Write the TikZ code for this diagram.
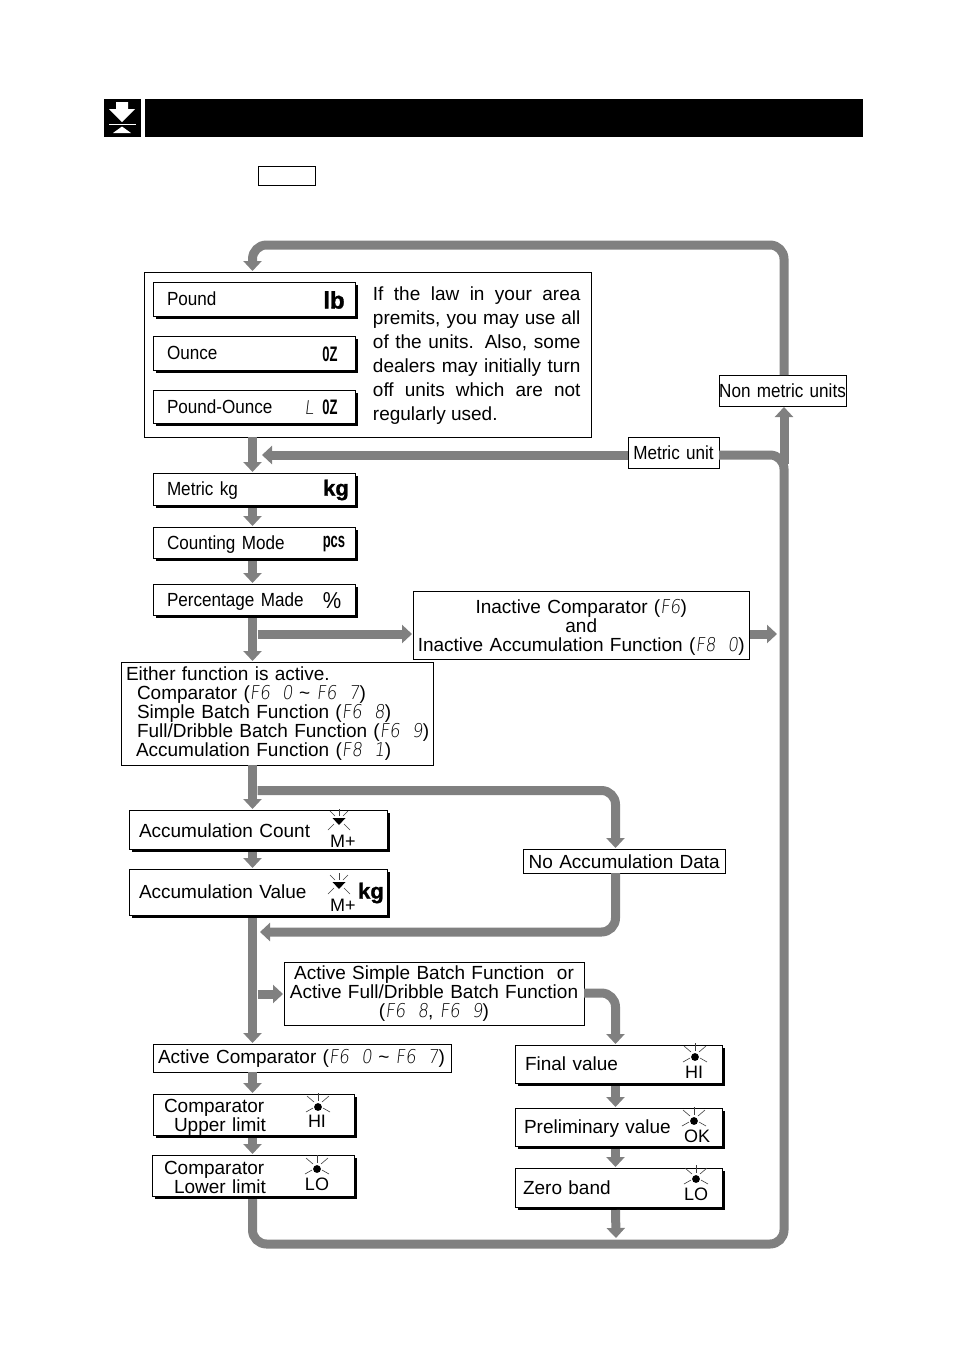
\documentclass[tikz,border=0pt]{standalone}
\usepackage{fontspec}
\setmainfont{Liberation Sans}
\newfontfamily\condfont[FakeStretch=0.9,WordSpace=0.7]{Liberation Sans}
\newfontfamily\narrowbold[FakeStretch=0.62]{Liberation Sans Bold}
\newfontfamily\heavyfont[FakeBold=1.2]{Liberation Sans Bold}
\newfontfamily\segfont[FakeSlant=0.12,FakeStretch=0.88]{DejaVu Sans ExtraLight}
\usetikzlibrary{arrows.meta,shadows}
\definecolor{flowgray}{HTML}{808080}
\newcommand{\seg}[1]{{\fontsize{19}{19}\segfont #1}}
\newcommand{\gapk}{\kern12pt }
\newcommand{\ins}[1]{\hspace*{#1pt}}
\newcommand{\nudge}[2]{\raisebox{-#1pt}[\height][\depth]{#2}}
\tikzset{
  sz/.style={font=\fontsize{#1}{#1}\selectfont},
  panel/.style={draw=black,line width=0.9pt,fill=white,inner sep=0pt,outer sep=0pt,align=left,sz=19},
  raised/.style={panel,drop shadow={shadow xshift=3pt,shadow yshift=-3pt,fill=black,opacity=1}},
  cond/.style={font=\fontsize{19}{19}\condfont},
  icontext/.style={inner sep=0pt,font=\fontsize{#1}{#1}\selectfont},
  bigunit/.style={inner sep=0pt,font=\fontsize{#1}{#1}\heavyfont},
  lcdunit/.style={inner sep=0pt,font=\fontsize{#1}{#1}\narrowbold},
  flow/.style={draw=flowgray,line width=9pt,-{Triangle[width=18pt,length=10pt]},shorten >=1pt},
  trunk/.style={draw=flowgray,line width=9pt,rounded corners=14pt},
  curved/.style={flow,rounded corners=14pt},
  below shadow/.style={shorten <=3pt},
  ray/.style={draw=black!75,line width=0.6pt}
}
% box given by its corners: style, name, x1, y1, x2, y2, text
\newcommand{\boxat}[7]{%
  \pgfmathsetmacro{\bw}{#5-#3}\pgfmathsetmacro{\bh}{#6-#4}%
  \pgfmathsetmacro{\bx}{(#3+#5)/2}\pgfmathsetmacro{\by}{(#4+#6)/2}%
  \node[#1,minimum width=\bw pt,minimum height=\bh pt,text width=\bw pt] (#2) at (\bx,\by) {#7};}
% lamp indicators with rays
\newcommand{\lampdot}[2]{%
  \fill (#1,#2) circle (3.9);
  \foreach \xa/\ya/\xb/\yb in {0/-14/0/-6,-11/-11/-4/-5,11/-11/4/-5,-12/5/-5/1,12/5/5/1}
    \draw[ray] ({#1+\xa},{#2+\ya}) -- ({#1+\xb},{#2+\yb});}
\newcommand{\lamptri}[2]{%
  \fill ({#1-6.5},{#2-3}) -- ({#1+6.5},{#2-3}) -- (#1,{#2+4}) -- cycle;
  \foreach \xa/\ya/\xb/\yb in {0/-12/0/-5,-9/-10/-4/-5,9/-10/4/-5,-11/9/-5/3,11/9/5/3}
    \draw[ray] ({#1+\xa},{#2+\ya}) -- ({#1+\xb},{#2+\yb});}
\begin{document}
\begin{tikzpicture}[x=1pt,y=-1pt]
\useasboundingbox (0,0) rectangle (954,1350);

% title band
\boxat{draw=none,fill=black,inner sep=0pt}{badge}{104}{99}{141}{137}{}
\boxat{draw=none,fill=black,inner sep=0pt}{band}{145}{99}{863}{137}{}
\fill[white] (116,102) -- (128,102) -- (128,109) -- (135,109) -- (122,122) -- (109,109) -- (116,109) -- cycle;
\draw[white,line width=0.6pt] (109,124.5) -- (136,124.5);
\fill[white] (122,126.5) -- (131,133) -- (113,133) -- cycle;
\boxat{panel}{keybox}{258}{166}{315.5}{185}{}

% unit group
\boxat{panel}{units}{144}{272}{591}{437}{}
\boxat{raised,cond}{pound}{153}{282}{355}{316}{\ins{14}Pound}
\boxat{raised,cond}{ounce}{153}{336}{355}{370}{\ins{14}Ounce}
\boxat{raised,cond}{poundounce}{153}{390}{355}{423}{\ins{14}Pound-Ounce}
\node[icontext=19,text width=207.5pt,align=justify,font=\fontsize{19}{24}\selectfont] (note) at (476.7,356)
  {If the law in your area\linebreak premits, you may use all\linebreak of the units. Also, some\linebreak dealers may initially turn\linebreak off units which are not\linebreak regularly used.};
\node[bigunit=24] (lbsym) at (334,300) {lb};
\node[lcdunit=21] (ozsym) at (330,354) {0Z};
\node[icontext=18] (lsym) at (309,408) {\seg{L}};
\node[lcdunit=21] (ozsymb) at (330,407) {0Z};

% metric modes
\boxat{raised,cond}{metric}{153}{473}{355}{505}{\ins{14}\nudge{2}{Metric kg}}
\node[bigunit=22] (kgsym) at (336,490) {kg};
\boxat{raised,cond}{counting}{153}{527}{355}{558}{\ins{14}\nudge{2}{Counting Mode}}
\node[lcdunit=21] (pcssym) at (334,544) {pcs};
\boxat{raised,cond}{percent}{153}{584}{355}{615}{\ins{14}\nudge{2}{Percentage Made}}
\node[icontext=23,font=\fontsize{23}{23}\condfont] (pctsym) at (332,601) {\%};
\boxat{panel,align=center,sz=19}{inactive}{413}{591}{749.5}{659}{\nudge{2}{Inactive Comparator (\seg{F6})}\\\nudge{2}{and}\\\nudge{2}{Inactive Accumulation Function (\seg{F8\gapk 0})}}
\boxat{panel}{either}{121}{662}{433}{765}{\ins{5}Either function is active.\\\ins{16}Comparator (\seg{F6\gapk 0} \textasciitilde\ \seg{F6\gapk 7})\\\ins{16}Simple Batch Function (\seg{F6\gapk 8})\\\ins{16}Full/Dribble Batch Function (\seg{F6\gapk 9})\\\ins{15}Accumulation Function (\seg{F8\gapk 1})}

% accumulation
\boxat{raised}{acccount}{129}{810}{387}{849}{\ins{10}\nudge{1}{Accumulation Count}}
\lamptri{339}{821}
\node[icontext=18] (mplusa) at (343,841) {M+};
\boxat{raised}{accvalue}{129}{869}{387}{915}{\ins{10}Accumulation Value}
\lamptri{339}{885}
\node[icontext=18] (mplusb) at (343,905) {M+};
\node[bigunit=22] (kgsymb) at (371,893) {kg};
\boxat{panel,align=center}{nodata}{523}{849}{725.5}{873}{\nudge{1}{No Accumulation Data}}

% batch and comparator
\boxat{panel,align=center}{batch}{284}{962}{584}{1025}{Active Simple Batch Function\ \ or\\Active Full/Dribble Batch Function\\(\seg{F6\gapk 8}, \seg{F6\gapk 9})}
\boxat{panel}{comparator}{153}{1044}{451}{1072}{\ins{5}Active Comparator (\seg{F6\gapk 0} \textasciitilde\ \seg{F6\gapk 7})}
\boxat{raised}{upper}{153}{1094}{354}{1135}{\ins{11}\nudge{3}{Comparator}\\\ins{21}\nudge{3}{Upper limit}}
\lampdot{318}{1107}
\node[icontext=18] (hia) at (317,1121) {HI};
\boxat{raised}{lower}{152}{1155}{354}{1196}{\ins{12}\nudge{2}{Comparator}\\\ins{22}\nudge{2}{Lower limit}}
\lampdot{317}{1169}
\node[icontext=18] (loa) at (317,1184) {LO};
\boxat{raised}{final}{515}{1045}{722}{1083}{\ins{10}Final value}
\lampdot{695}{1057}
\node[icontext=18] (hib) at (694,1072) {HI};
\boxat{raised}{prelim}{515}{1108}{722}{1146}{\ins{9}\nudge{2}{Preliminary value}}
\lampdot{694}{1121}
\node[icontext=18] (okb) at (697,1136) {OK};
\boxat{raised}{zero}{515}{1168}{722}{1207}{\ins{8}Zero band}
\lampdot{696}{1179}
\node[icontext=18] (lob) at (696,1194) {LO};

% routing labels
\boxat{panel,cond,align=center}{metricunit}{628}{437}{719}{468}{\mbox{Metric unit}}
\boxat{panel,cond,align=center}{nonmetric}{719}{375}{846}{406}{\mbox{Non metric units}}

% routing guide points
\coordinate (mainx) at (252.5,0);
\coordinate (rightx) at (784,0);
\coordinate (sidex) at (615.5,0);
\coordinate (toprow) at (0,245);
\coordinate (metricrow) at (0,455);
\coordinate (botrow) at (0,1244);
\coordinate (returntip) at (261,455);
\coordinate (forkup) at (784,464);
\coordinate (forkinactive) at (257.5,634);
\coordinate (inactiveout) at (778,634);
\coordinate (forkacc) at (257.5,790.5);
\coordinate (nodatarow) at (0,932);
\coordinate (nodatatip) at (259,932);
\coordinate (forkbatch) at (257.5,994);
\coordinate (batchrow) at (0,993);
\coordinate (bottomtip) at (616,1239);

% return loop around the whole chart
\draw[trunk,below shadow] (lower.south -| mainx) -- (mainx |- botrow) -- (rightx |- botrow) -- (rightx |- metricrow) -- (metricunit.east |- metricrow);
\draw[flow] (metricunit.west |- metricrow) -- (returntip);
\draw[flow] (forkup) -- (nonmetric.south -| rightx);
\draw[curved] (nonmetric.north -| rightx) -- (rightx |- toprow) -- (mainx |- toprow) -- (units.north -| mainx);

% main column
\draw[flow] (units.south -| mainx) -- (metric.north -| mainx);
\draw[flow,below shadow] (metric.south -| mainx) -- (counting.north -| mainx);
\draw[flow,below shadow] (counting.south -| mainx) -- (percent.north -| mainx);
\draw[flow,below shadow] (percent.south -| mainx) -- (either.north -| mainx);
\draw[flow] (forkinactive) -- (inactive.west |- forkinactive);
\draw[flow] (inactive.east |- inactiveout) -- (inactiveout);
\draw[flow] (either.south -| mainx) -- (acccount.north -| mainx);
\draw[curved] (forkacc) -- (sidex |- forkacc) -- (nodata.north -| sidex);
\draw[flow,below shadow] (acccount.south -| mainx) -- (accvalue.north -| mainx);
\draw[curved] (nodata.south -| sidex) -- (sidex |- nodatarow) -- (nodatatip);
\draw[flow,below shadow] (accvalue.south -| mainx) -- (comparator.north -| mainx);
\draw[flow] (forkbatch) -- (batch.west |- forkbatch);
\draw[flow] (comparator.south -| mainx) -- (upper.north -| mainx);
\draw[flow,below shadow] (upper.south -| mainx) -- (lower.north -| mainx);

% batch column
\draw[curved] (batch.east |- batchrow) -- (sidex |- batchrow) -- (final.north -| sidex);
\draw[flow,below shadow] (final.south -| sidex) -- (prelim.north -| sidex);
\draw[flow,below shadow] (prelim.south -| sidex) -- (zero.north -| sidex);
\draw[flow,below shadow] (zero.south -| sidex) -- (bottomtip);
\end{tikzpicture}
\end{document}
